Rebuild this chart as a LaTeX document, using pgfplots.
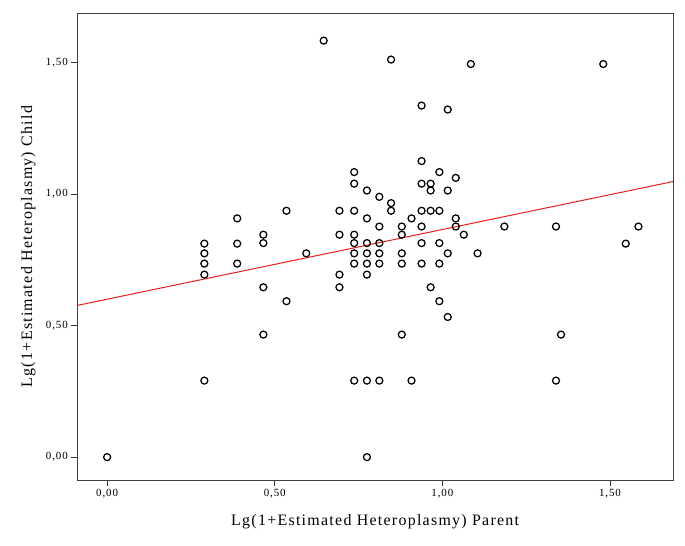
\documentclass[border=0pt]{standalone}
\usepackage{fontspec}
\setmainfont{Liberation Serif}
\usepackage{pgfplots}
\usepackage{pgfplotstable}
\pgfplotsset{compat=1.18}
\pgfplotstableread{
x y
0.000 0.000
0.290 0.291
0.290 0.694
0.290 0.736
0.290 0.775
0.290 0.812
0.388 0.736
0.388 0.812
0.388 0.908
0.466 0.466
0.466 0.646
0.466 0.814
0.466 0.846
0.535 0.593
0.535 0.937
0.594 0.775
0.646 1.584
0.693 0.646
0.693 0.694
0.693 0.846
0.693 0.937
0.737 0.291
0.737 0.736
0.737 0.775
0.737 0.814
0.737 0.846
0.737 0.937
0.737 1.040
0.737 1.084
0.775 0.000
0.775 0.291
0.775 0.694
0.775 0.736
0.775 0.775
0.775 0.814
0.775 0.908
0.775 1.014
0.812 0.291
0.812 0.736
0.812 0.775
0.812 0.814
0.812 0.877
0.812 0.990
0.847 0.937
0.847 0.966
0.847 1.512
0.879 0.466
0.879 0.736
0.879 0.775
0.879 0.846
0.879 0.877
0.908 0.291
0.908 0.908
0.938 0.736
0.938 0.814
0.938 0.877
0.938 0.937
0.938 1.040
0.938 1.126
0.938 1.337
0.965 0.646
0.965 0.937
0.965 1.014
0.965 1.040
0.991 0.593
0.991 0.736
0.991 0.814
0.991 0.937
0.991 1.084
1.016 0.533
1.016 0.775
1.016 1.014
1.016 1.322
1.040 0.877
1.040 0.908
1.040 1.062
1.064 0.846
1.085 1.495
1.105 0.775
1.185 0.877
1.339 0.291
1.339 0.877
1.354 0.466
1.480 1.495
1.547 0.812
1.585 0.877
}\pointdata
\pgfplotstableread{
x y
-0.089 0.577
1.688 1.048
}\fitdata
\definecolor{fitred}{RGB}{228,30,30}
\begin{document}
\begin{tikzpicture}
\begin{axis}[
  scale only axis, width=595.7bp, height=466.7bp,
  xmin=-0.089, xmax=1.688, ymin=-0.087, ymax=1.688,
  axis line style={black!75, line width=0.8pt},
  xtick={0,0.5,1,1.5}, ytick={0,0.5,1,1.5},
  xticklabels={{0,00},{0,50},{1,00},{1,50}},
  yticklabels={{0,00},{0,50},{1,00},{1,50}},
  tick align=outside, tick pos=left, major tick length=6bp,
  tick style={black!80, line width=0.8pt},
  tick label style={font=\fontsize{11}{13}\selectfont\addfontfeature{LetterSpace=8}},
  xlabel={Lg(1+Estimated Heteroplasmy) Parent},
  ylabel={Lg(1+Estimated Heteroplasmy) Child},
  label style={font=\fontsize{16}{18}\selectfont\addfontfeature{LetterSpace=8}},
  xlabel style={at={(axis description cs:0.5,-0.09)}, anchor=center},
  ylabel style={at={(axis description cs:-0.0823,0.5)}, anchor=center},
  clip=true,
]
\addplot[fitred, line width=1pt] table[x=x,y=y] {\fitdata};
\addplot[only marks, mark=o, mark size=3.5bp, black, mark options={line width=1.25pt}] table[x=x,y=y] {\pointdata};
\end{axis}
\path ([xshift=-77.3bp,yshift=-66bp]current axis.south west) rectangle ([xshift=12bp,yshift=13.3bp]current axis.north east);
\end{tikzpicture}
\end{document}
